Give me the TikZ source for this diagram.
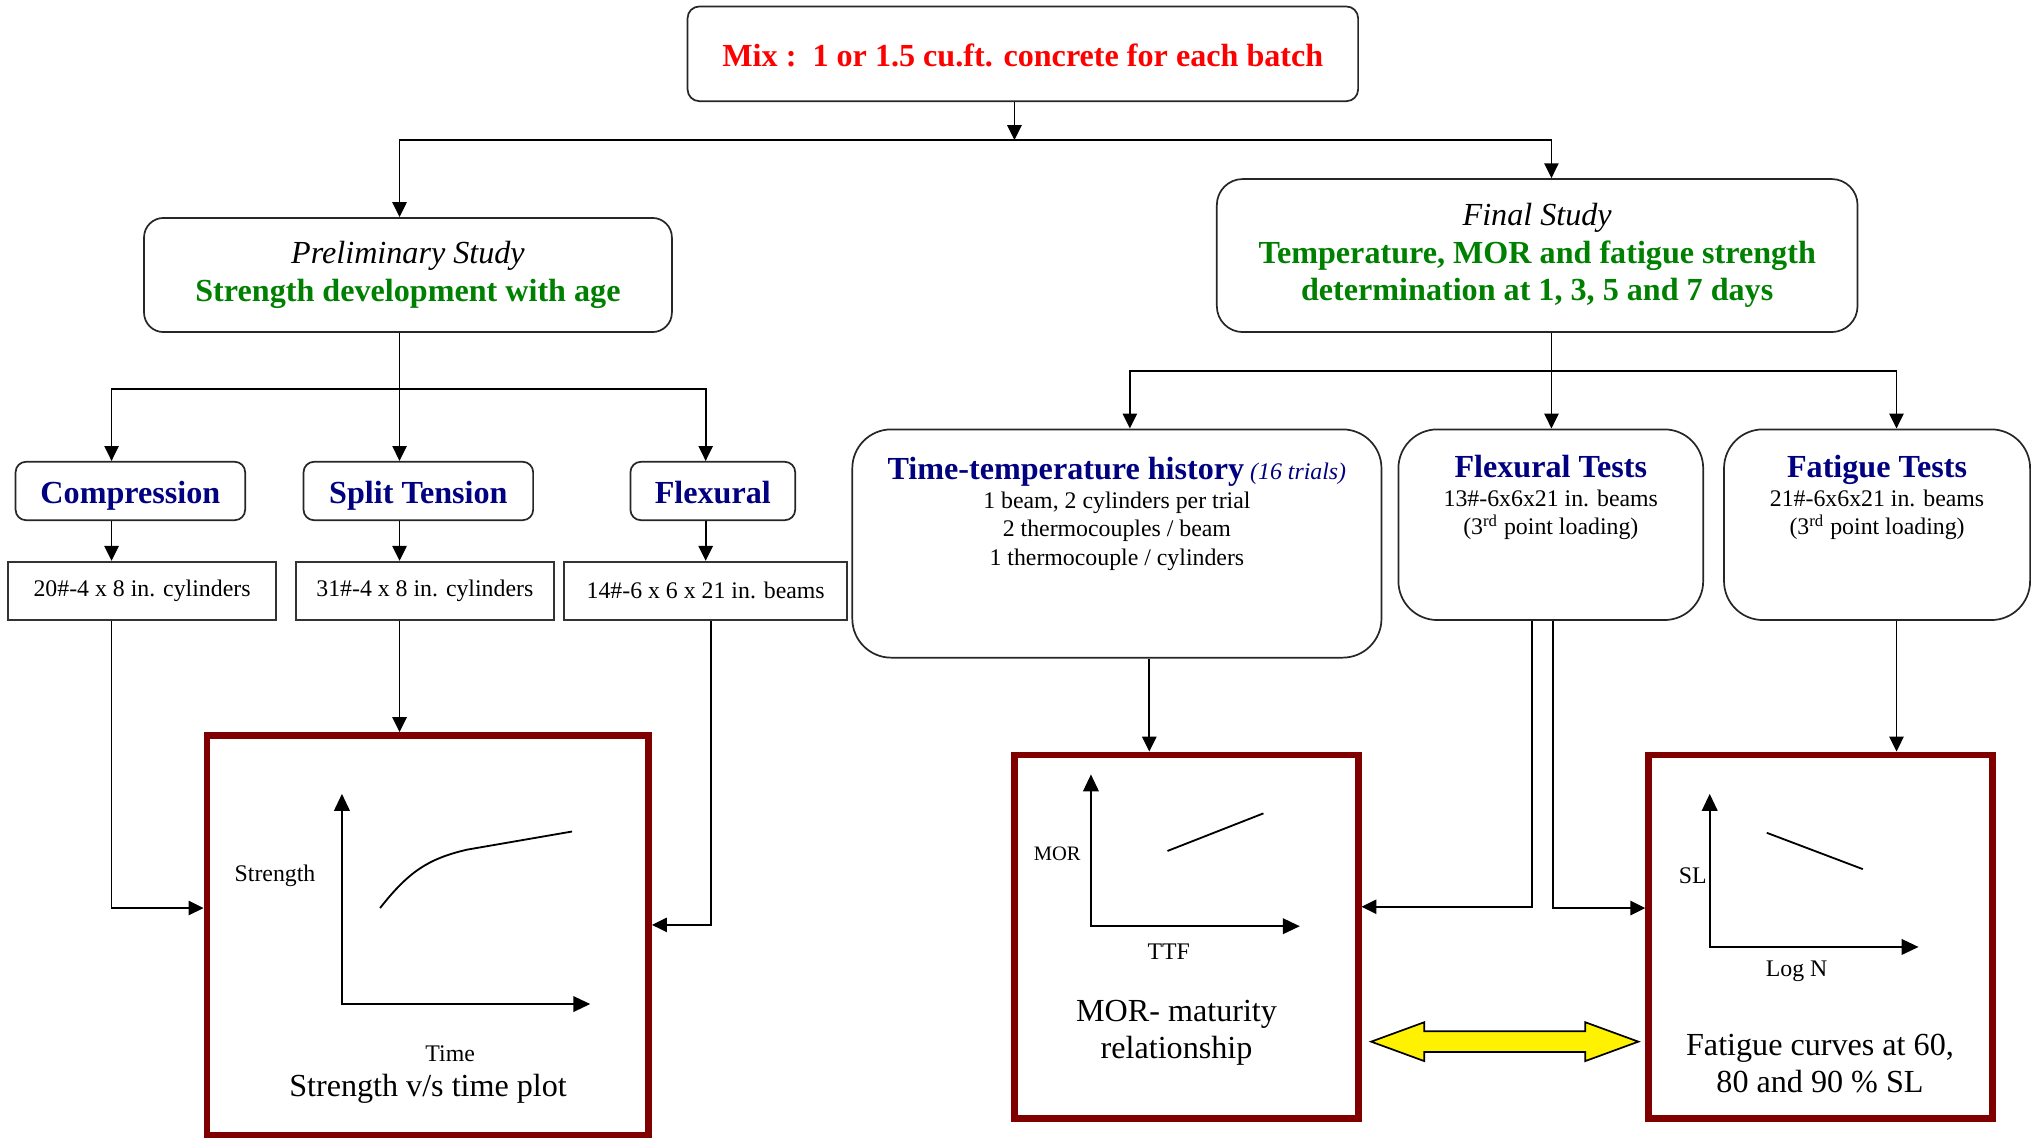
\documentclass[tikz,border=0pt]{standalone}
\usepackage{fontspec}
\setmainfont{Liberation Serif}
\usetikzlibrary{positioning,arrows.meta}
\definecolor{navyblue}{RGB}{0,0,128}
\definecolor{darkgreen}{RGB}{0,128,0}
\definecolor{maroon}{RGB}{128,0,0}
\newcommand{\hdfont}{\fontsize{14.1}{16.5}\selectfont\bfseries\color{navyblue}}

\tikzset{
  big/.style={font=\fontsize{14.1}{16.4}\selectfont},
  small/.style={font=\fontsize{10.45}{12.5}\selectfont},
  hd/.style={font=\fontsize{14.1}{16.5}\selectfont\bfseries, text=navyblue, text height=1.1em, text depth=0pt},
  rbox/.style={draw=black!85, line width=0.75pt, rounded corners=#1, inner sep=0pt, align=center},
  rbox/.default=0.2cm,
  tbox/.style={draw=black!80, line width=0.75pt, minimum height=0.9cm, inner sep=0pt, small},
  plotbox/.style={draw=maroon, line width=3pt, inner sep=0pt},
  arr/.style={-{Triangle[length=0.23cm,width=0.22cm]}, line width=0.75pt},
  axes/.style={{Triangle[length=0.26cm,width=0.24cm]}-{Triangle[length=0.26cm,width=0.24cm]}, line width=0.75pt},
  curve/.style={line width=0.8pt}
}

\begin{document}
\begin{tikzpicture}[x=0.02cm, y=-0.02cm]
	\useasboundingbox (0,0) rectangle (1568,879);
	%%%%%%%%%%%%%%%%% boxes %%%%%%%%%%%%%%%%%%%
	\node[rbox=0.18cm, minimum width=10.34cm, minimum height=1.46cm, big, text=red,
	  text height=1.15em, text depth=0pt] (mix) at (788.5,41.5)
	{\bfseries Mix :\ \ 1 or 1.5 cu.ft. concrete for each batch};
	
	\node[rbox=0.3cm, minimum width=8.14cm, minimum height=1.76cm, big] (prelim) at (314.5,212)
	{{\itshape Preliminary Study}\\ \textcolor{darkgreen}{\bfseries Strength development with age}};
	\node[rbox=0.4cm, minimum width=9.88cm, minimum height=2.36cm, big] (final) at (1185,197)
	{{\itshape Final Study}\\ \textcolor{darkgreen}{\bfseries Temperature, MOR and fatigue strength}\\
		\textcolor{darkgreen}{\bfseries determination at 1, 3, 5 and 7 days}};
	
	% preliminary study: tests and specimens
	\node[rbox=0.16cm, minimum width=3.54cm, minimum height=0.9cm, hd] (comp) at (100.5,378.5) {Compression};
	\node[rbox=0.16cm, minimum width=3.54cm, minimum height=0.9cm, hd] (split) at (322.5,378.5) {Split Tension};
	\node[rbox=0.16cm, minimum width=2.54cm, minimum height=0.9cm, hd] (flex) at (549.5,378.5) {Flexural};
	\node[tbox, minimum width=4.14cm] (cyl1) at (109.5,455.5) {20\#-4 x 8 in. cylinders};
	\node[tbox, minimum width=3.98cm] (cyl2) at (327.5,455.5) {31\#-4 x 8 in. cylinders};
	\node[tbox, minimum width=4.36cm] (beam) at (544,455.5) {14\#-6 x 6 x 21 in. beams};
	
	% final study: tests
	\node[rbox=0.6cm, minimum width=8.16cm, minimum height=3.52cm] (tt) at (861,419) {};
	\node[below=0.32cm of tt.north, small, align=center] (ttTxt)
	{{\hdfont Time-temperature history} \textcolor{navyblue}{\itshape (16 trials)}\\
		1 beam, 2 cylinders per trial\\ 2 thermocouples / beam\\ 1 thermocouple / cylinders};
	\node[rbox=0.6cm, minimum width=4.7cm, minimum height=2.94cm] (flext) at (1195.5,404.5) {};
	\node[below=0.29cm of flext.north, small, align=center] (flextTxt)
	{{\hdfont Flexural Tests}\\ 13\#-6x6x21 in. beams\\ (3\textsuperscript{rd} point loading)};
	\node[rbox=0.6cm, minimum width=4.72cm, minimum height=2.94cm] (fatt) at (1447,404.5) {};
	\node[below=0.29cm of fatt.north, small, align=center] (fattTxt)
	{{\hdfont Fatigue Tests}\\ 21\#-6x6x21 in. beams\\ (3\textsuperscript{rd} point loading)};
	
	%%%%%%%%%%%%%%%%% plots %%%%%%%%%%%%%%%%%%%%%
	\node[plotbox, minimum width=6.81cm, minimum height=6.16cm] (strength) at (329.75,721) {};
	\draw[axes] (263.6,612) |- (455,774);
	\draw[curve] (293,700) .. controls (315,672) and (330,662) .. (360,655) -- (441,641);
	\node[small] (strY) at (212,675) {Strength};
	\node[small] (strX) at (347,812) {Time};
	\node[big] (strT) at (330,839) {Strength v/s time plot};
	
	\node[plotbox, minimum width=5.3cm, minimum height=5.6cm] (mor) at (914.5,722) {};
	\draw[axes] (841,597) |- (1002,714);
	\draw[curve] (900,656) -- (974,627);
	\node[font=\fontsize{9}{11}\selectfont] (morY) at (815,658) {MOR};
	\node[small] (morX) at (901,734) {TTF};
	\node[big, align=center] (morT) at (907,796) {MOR- maturity\\ relationship};
	
	\node[plotbox, minimum width=5.3cm, minimum height=5.6cm] (fatc) at (1403.5,722) {};
	\draw[axes] (1318,612) |- (1479,730);
	\draw[curve] (1362,642) -- (1436,670);
	\node[small] (fatY) at (1305,675) {SL};
	\node[small] (fatX) at (1385,749) {Log N};
	\node[big, align=center] (fatT) at (1403,820) {Fatigue curves at 60,\\ 80 and 90 \% SL};
	
	\draw[line width=0.75pt, fill=yellow] (1057,803) -- (1098,788) -- (1098,795) -- (1222,795) -- (1222,788)
	-- (1263,803) -- (1222,818) -- (1222,811) -- (1098,811) -- (1098,818) -- cycle;
	
	%%%%%%%%%%%%%%%%% connectors %%%%%%%%%%%%%%%%
	\coordinate (j0) at (782,108);
	\draw[arr] (mix.south -| j0) -- (j0);
	\draw[arr] (j0) -| (prelim.north -| 308,0);
	\draw[arr] (j0) -| (final.north -| 1196,0);
	
	\coordinate (j1) at (308,300);
	\draw[line width=0.75pt] (prelim.south -| j1) -- (j1);
	\draw[arr] (j1) -| (comp.north -| 86,0);
	\draw[arr] (j1) -- (split.north -| j1);
	\draw[arr] (j1) -| (flex.north -| 544,0);
	\draw[arr] (comp.south -| 86,0) -- (cyl1.north -| 86,0);
	\draw[arr] (split.south -| 308,0) -- (cyl2.north -| 308,0);
	\draw[arr] (flex.south -| 544,0) -- (beam.north -| 544,0);
	\draw[arr] (cyl1.south -| 86,0) |- (strength.west |- 0,700);
	\draw[arr] (cyl2.south -| 308,0) -- (strength.north -| 308,0);
	\draw[arr] (beam.south -| 548,0) |- (strength.east |- 0,713);
	
	\coordinate (j2) at (1196,286);
	\draw[line width=0.75pt] (final.south -| j2) -- (j2);
	\draw[arr] (j2) -| (tt.north -| 871,0);
	\draw[arr] (j2) -- (flext.north -| j2);
	\draw[arr] (j2) -| (fatt.north -| 1462,0);
	\draw[arr] (tt.south -| 886,0) -- (mor.north -| 886,0);
	\draw[arr] (flext.south -| 1181,0) |- (mor.east |- 0,699);
	\draw[arr] (flext.south -| 1197,0) |- (fatc.west |- 0,700);
	\draw[arr] (fatt.south -| 1462,0) -- (fatc.north -| 1462,0);
\end{tikzpicture}
\end{document}
